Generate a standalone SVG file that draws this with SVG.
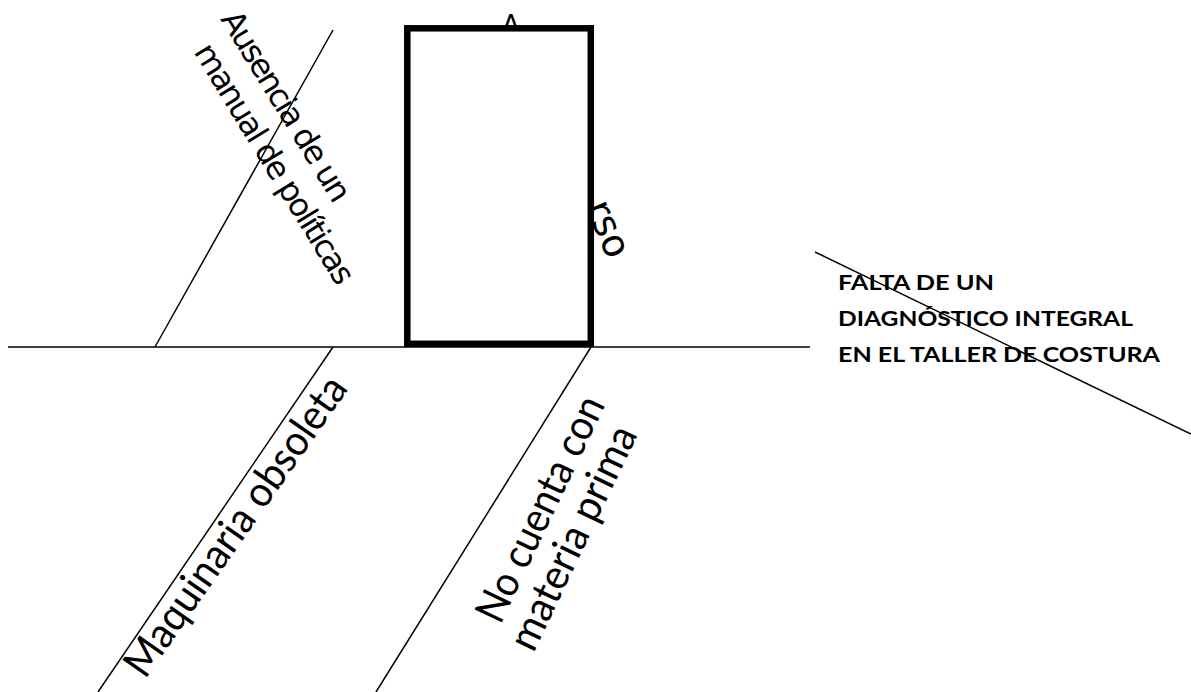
<svg xmlns="http://www.w3.org/2000/svg" width="1191" height="692" viewBox="0 0 1191 692">
<style>
.ln{stroke:#000;stroke-width:1.5;fill:none;stroke-linecap:butt}
.dv{font-family:"DejaVu Sans",Verdana,sans-serif;fill:#000}
.cb{font-family:Lato,"Open Sans",sans-serif;font-size:42px;fill:#000}
.hd{font-family:Lato,"Open Sans",sans-serif;font-weight:bold;font-size:21px;fill:#000}
</style>
<rect width="1191" height="692" fill="#fff"/>
<g id="cause-hidden">
<text class="dv" x="502" y="34" style="font-size:26px">A</text>
<text class="dv" style="font-size:38px" transform="translate(585.2,206.7) rotate(67)">rso</text>
</g>
<g id="box">
<rect x="407.3" y="28.3" width="183.5" height="315.5" fill="#fff" stroke="#000" stroke-width="6.5"/>
</g>
<g id="cause-politicas">
<text class="dv" style="font-size:32px" transform="translate(220,19) rotate(58.5)"><tspan x="0" y="0" textLength="218" lengthAdjust="spacing">Ausencia de un</tspan><tspan x="14" y="40" textLength="276" lengthAdjust="spacing">manual de políticas</tspan></text>
</g>
<g id="cause-maquinaria">
<text class="cb" transform="translate(145,680) rotate(-55)" textLength="356" lengthAdjust="spacingAndGlyphs">Maquinaria obsoleta</text>
</g>
<g id="cause-materia">
<text class="cb" transform="translate(493,622) rotate(-64.5)"><tspan x="0" y="8" textLength="245" lengthAdjust="spacingAndGlyphs">No cuenta con</tspan><tspan x="-11" y="50" textLength="243" lengthAdjust="spacingAndGlyphs">materia prima</tspan></text>
</g>
<g id="effect">
<text class="hd" x="838" y="290" textLength="156" lengthAdjust="spacingAndGlyphs">FALTA DE UN</text>
<text class="hd" x="838" y="326" textLength="295" lengthAdjust="spacingAndGlyphs">DIAGNÓSTICO INTEGRAL</text>
<text class="hd" x="838" y="362" textLength="322" lengthAdjust="spacingAndGlyphs">EN EL TALLER DE COSTURA</text>
</g>
<g id="connectors">
<line class="ln" x1="8" y1="347" x2="810" y2="347"/>
<line class="ln" x1="155" y1="347" x2="333" y2="30"/>
<line class="ln" x1="333" y1="347" x2="98" y2="692"/>
<line class="ln" x1="591" y1="347" x2="376" y2="692"/>
<line class="ln" x1="815" y1="252" x2="1191" y2="434"/>
</g>
</svg>
